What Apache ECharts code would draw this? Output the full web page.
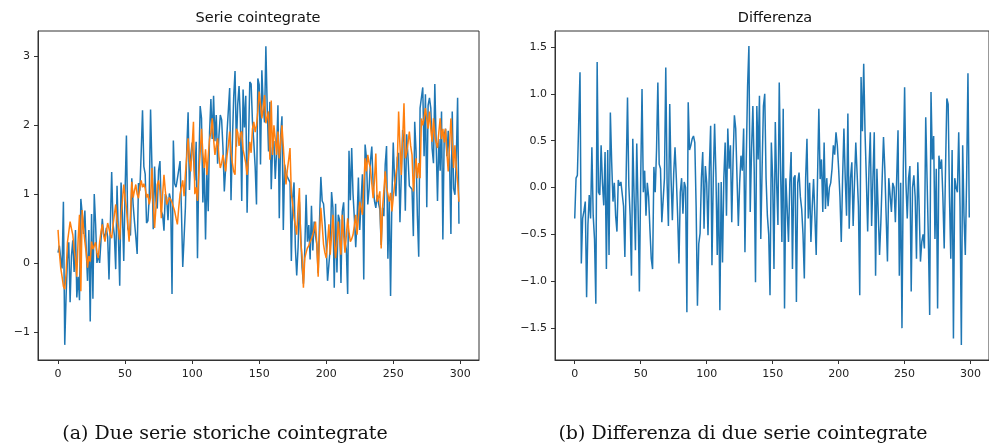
<!DOCTYPE html>
<html><head><meta charset="utf-8">
<script src="https://cdn.jsdelivr.net/npm/echarts@6/dist/echarts.min.js"></script>
<style>html,body{margin:0;padding:0;background:#fff}#c{width:989px;height:446px}</style>
</head><body><div id="c"></div>
<script>
// Serie 1 (blu)
const serieA = [
0.15,0.25,0.06,-0.08,0.89,-1.19,-0.48,0.05,0.30,-0.57,
0.10,0.33,-0.13,0.48,-0.50,-0.20,-0.54,0.93,0.72,0.42,
0.76,0.20,-0.26,0.48,-0.85,0.71,-0.52,1.00,0.57,0.00,
0.12,0.00,-0.02,0.64,0.42,0.37,0.51,0.38,-0.24,0.55,
1.32,0.57,0.40,-0.09,1.12,0.40,-0.33,1.17,0.70,0.03,
1.05,1.85,0.50,0.49,0.40,1.23,0.85,0.60,0.38,0.13,
1.16,1.05,1.60,2.22,1.40,1.29,0.58,0.61,0.95,2.23,
1.43,0.49,1.40,0.90,0.79,1.35,1.48,0.75,0.70,0.47,
1.00,0.95,0.62,1.01,0.92,-0.45,1.78,1.15,1.10,1.08,
1.35,1.48,0.78,-0.06,0.37,0.81,1.65,2.19,1.06,1.56,
1.75,1.54,1.20,1.76,0.07,1.40,2.28,2.10,0.88,1.43,
0.34,1.34,0.75,1.90,2.38,1.80,2.43,1.77,2.15,1.44,
1.85,2.15,2.08,1.67,1.04,1.38,1.89,1.89,2.54,0.91,
1.75,2.41,2.79,1.69,2.30,2.57,2.08,0.90,2.52,1.97,
2.43,0.73,1.70,2.63,2.60,2.05,1.75,1.40,0.85,2.68,
2.59,1.43,2.80,2.30,2.04,3.15,2.25,1.62,2.34,1.07,
1.67,1.77,1.22,1.62,2.29,0.65,1.85,2.13,0.48,1.43,
1.30,1.25,1.27,1.17,0.03,0.95,1.17,0.22,-0.18,0.22,
0.89,0.40,-0.07,-0.30,0.17,0.99,0.31,0.55,0.05,0.83,
0.18,0.60,0.40,0.27,-0.15,0.60,1.25,0.90,0.86,0.60,
0.27,-0.26,-0.02,0.22,1.03,0.80,-0.36,0.86,-0.14,0.70,
0.62,-0.29,0.75,0.88,0.30,0.20,-0.45,1.63,0.91,1.67,
1.00,0.65,0.23,0.61,1.24,0.48,0.90,1.29,-0.24,1.72,
1.53,0.85,1.08,1.48,1.69,1.14,0.90,0.80,0.99,0.87,
0.78,0.26,0.80,0.68,1.43,1.70,0.06,0.94,-0.48,0.95,
1.75,1.19,0.97,1.53,1.60,0.59,1.28,1.93,1.75,0.76,
1.87,1.54,1.12,1.12,1.07,0.39,2.05,1.62,0.68,0.09,
2.25,2.40,2.55,1.55,2.45,0.81,2.29,2.40,2.25,1.66,
1.45,2.60,2.61,0.90,1.80,1.34,2.20,0.34,1.85,1.95,
1.55,1.92,1.50,0.42,2.20,1.08,0.99,1.50,2.40,0.57
];
// Serie 2 (arancione)
const serieB = [
0.48,0.15,-0.07,-0.20,-0.34,-0.38,-0.15,0.30,0.45,0.60,
0.50,0.41,0.20,0.05,-0.20,0.35,0.70,-0.41,0.77,0.50,
0.31,0.15,-0.07,0.10,0.02,0.31,0.20,0.20,0.30,0.15,
0.07,0.30,0.45,0.56,0.40,0.31,0.45,0.58,0.50,0.40,
0.36,0.55,0.70,0.85,0.60,0.50,0.34,0.70,0.90,1.14,
0.95,0.80,0.55,0.31,0.70,1.18,0.95,1.05,1.14,1.00,
0.94,1.10,1.20,1.10,1.15,1.09,0.95,1.00,0.85,0.95,
1.38,0.90,0.51,0.80,1.14,1.20,1.05,0.65,1.00,1.28,
1.05,0.85,0.90,0.95,0.92,0.88,0.87,0.75,0.65,0.56,
0.80,1.00,0.98,1.20,0.97,1.30,1.55,1.81,1.50,1.33,
1.70,2.05,1.00,1.10,0.90,1.30,1.60,1.95,1.60,1.38,
1.65,1.28,1.55,1.80,1.90,2.10,1.80,1.57,1.70,1.81,
1.55,1.38,1.45,1.57,1.45,1.33,1.55,1.71,1.91,1.60,
1.45,1.33,1.28,1.95,1.90,1.70,1.88,1.91,1.65,1.67,
1.45,1.28,1.50,1.76,1.60,1.95,2.05,1.90,2.00,2.20,
2.49,2.30,2.10,2.25,2.44,2.03,2.05,2.20,1.50,2.36,
1.57,2.00,1.80,1.57,1.91,1.52,1.75,2.00,1.70,1.38,
1.14,1.35,1.50,1.67,1.00,0.85,0.65,0.55,0.41,0.80,
1.09,0.31,0.10,-0.36,0.07,0.15,0.22,0.25,0.31,0.35,
0.41,0.50,0.60,0.27,-0.20,0.40,0.80,0.55,0.27,0.15,
0.07,0.30,0.56,0.12,0.40,0.70,0.35,0.07,0.30,0.60,
0.35,0.12,0.70,0.40,0.15,0.40,0.65,0.45,0.31,0.35,
0.41,0.55,0.70,0.41,0.65,0.89,0.80,0.70,0.70,1.52,
1.33,1.57,1.45,1.38,1.15,0.94,1.20,1.59,0.89,0.95,
1.04,0.21,0.80,1.05,1.33,1.09,1.00,0.89,1.02,0.75,
0.95,1.14,1.30,1.43,2.20,1.70,1.28,1.80,2.32,1.52,
1.60,1.74,1.91,1.70,1.57,1.04,1.30,1.52,1.23,1.45,
1.23,2.10,2.00,2.10,2.25,2.10,1.95,2.20,1.95,1.76,
2.10,1.85,1.75,1.67,1.90,2.10,1.80,1.95,1.75,1.95,
1.60,1.33,1.70,2.10,1.75,1.38,1.71,1.40,1.18,0.89
];
// Differenza
const differenza = [
-0.33,0.10,0.13,0.12,1.23,-0.81,-0.33,-0.25,-0.15,-1.17,
-0.40,-0.08,-0.33,0.43,-0.30,-0.55,-1.24,1.34,-0.05,-0.08,
0.45,0.05,-0.19,0.38,-0.87,0.40,-0.72,0.80,0.27,-0.15,
0.05,-0.30,-0.47,0.08,0.02,0.06,0.06,-0.20,-0.74,0.15,
0.96,0.02,-0.30,-0.94,0.52,-0.10,-0.67,0.47,-0.20,-1.11,
0.10,1.05,-0.05,0.18,-0.30,0.05,-0.10,-0.45,-0.76,-0.87,
0.22,-0.05,0.40,1.12,0.25,0.20,-0.37,-0.39,0.10,1.28,
0.05,-0.41,0.89,0.10,-0.35,0.15,0.43,0.10,-0.30,-0.81,
-0.05,0.10,-0.28,0.06,0.00,-1.33,0.91,0.40,0.45,0.52,
0.55,0.48,-0.20,-1.26,-0.60,-0.49,0.10,0.38,-0.44,0.23,
0.05,-0.51,0.20,0.66,-0.83,0.10,0.68,0.15,-0.72,0.05,
-1.31,0.06,-0.80,0.10,0.48,-0.30,0.63,0.20,0.45,-0.37,
0.30,0.77,0.63,0.10,-0.41,0.05,0.34,0.18,0.63,-0.69,
0.30,1.08,1.51,-0.26,0.40,0.87,0.20,-1.01,0.87,0.30,
0.98,-0.55,0.20,0.87,1.00,0.10,-0.30,-0.50,-1.15,0.48,
0.10,-0.87,0.70,0.05,-0.40,1.12,0.20,-0.58,0.84,-1.29,
0.10,-0.23,-0.58,0.05,0.38,-0.87,0.10,0.13,-1.22,0.05,
0.16,-0.10,-0.23,-0.50,-0.97,0.10,0.52,-0.33,0.05,-0.58,
-0.20,0.09,-0.30,-0.72,0.10,0.84,0.09,0.30,-0.26,0.48,
-0.23,0.10,-0.20,0.00,0.05,0.20,0.45,0.35,0.59,0.45,
0.20,-0.10,-0.58,0.10,0.63,0.10,-0.30,0.79,-0.44,0.10,
0.27,-0.41,0.05,0.48,0.15,-0.20,-1.15,1.18,0.60,1.32,
0.59,0.10,-0.47,0.20,0.59,-0.41,0.10,0.59,-0.94,0.20,
0.20,-0.72,-0.37,0.10,0.54,0.20,-0.30,-0.79,0.10,-0.08,
-0.26,0.05,0.00,-0.37,0.10,0.61,-0.94,0.05,-1.50,0.20,
1.07,0.05,-0.33,0.10,0.23,-1.11,0.00,0.13,-0.10,-0.76,
0.27,-0.20,-0.79,-0.58,-0.50,-0.65,0.75,0.10,-0.55,-1.36,
1.02,0.30,0.55,-0.55,0.20,-1.29,0.34,0.20,0.30,-0.10,
-0.65,0.20,0.95,0.89,-0.10,-0.76,0.40,-1.61,0.10,0.00,
-0.05,0.59,-0.20,-1.68,0.45,-0.30,-0.72,0.10,1.22,-0.32
];
const xTicks = [0, 50, 100, 150, 200, 250, 300];
const yTicksLeft = [-1, 0, 1, 2, 3];
const yTicksRight = [-1.5, -1.0, -0.5, 0.0, 0.5, 1.0, 1.5];
const plotTitles = ['Serie cointegrate', 'Differenza'];
const captions = ['(a) Due serie storiche cointegrate', '(b) Differenza di due serie cointegrate'];

const chart = echarts.init(document.getElementById('c'), null, {renderer: 'canvas'});
const AX = '#333';
const sans = 'DejaVu Sans';
const minus = s => s.replace('-', '\u2212');
function xAxis(gi) {
  return {
    type: 'value', gridIndex: gi, min: -14.95, max: 313.95,
    axisLine: {show: true, onZero: false, lineStyle: {color: AX, width: 1}},
    axisTick: {show: true, customValues: xTicks, length: 4, lineStyle: {color: AX}},
    axisLabel: {customValues: xTicks, color: '#222', fontFamily: sans, fontSize: 11, margin: 9},
    splitLine: {show: false}
  };
}
function yAxis(gi, min, max, ticks, fmt) {
  return {
    type: 'value', gridIndex: gi, min: min, max: max,
    axisLine: {show: true, onZero: false, lineStyle: {color: AX, width: 1}},
    axisTick: {show: true, customValues: ticks, length: 4, lineStyle: {color: AX}},
    axisLabel: {customValues: ticks, color: '#222', fontFamily: sans, fontSize: 11, margin: 8, formatter: fmt},
    splitLine: {show: false}
  };
}
const idx = arr => arr.map((v, i) => [i, v]);
chart.setOption({
  animation: false,
  backgroundColor: '#fff',
  grid: [
    {left: 38, top: 31, width: 441, height: 329, show: true, borderColor: AX, borderWidth: 1, containLabel: false},
    {left: 555, top: 31, width: 441, height: 329, show: true, borderColor: AX, borderWidth: 1, containLabel: false}
  ],
  xAxis: [xAxis(0), xAxis(1)],
  yAxis: [
    yAxis(0, -1.41, 3.37, yTicksLeft, v => minus(String(v))),
    yAxis(1, -1.84, 1.67, yTicksRight, v => minus(v.toFixed(1)))
  ],
  series: [
    {type: 'line', xAxisIndex: 0, yAxisIndex: 0, data: idx(serieA), showSymbol: false, symbol: 'none', lineStyle: {color: '#1f77b4', width: 1.5}, itemStyle: {color: '#1f77b4'}},
    {type: 'line', xAxisIndex: 0, yAxisIndex: 0, data: idx(serieB), showSymbol: false, symbol: 'none', lineStyle: {color: '#ff7f0e', width: 1.5}, itemStyle: {color: '#ff7f0e'}},
    {type: 'line', xAxisIndex: 1, yAxisIndex: 1, data: idx(differenza), showSymbol: false, symbol: 'none', lineStyle: {color: '#1f77b4', width: 1.5}, itemStyle: {color: '#1f77b4'}}
  ],
  graphic: [
    {type: 'text', x: 258, y: 18, style: {text: plotTitles[0], fontFamily: sans, fontSize: 14.5, fill: '#111', align: 'center', verticalAlign: 'middle'}},
    {type: 'text', x: 775, y: 18, style: {text: plotTitles[1], fontFamily: sans, fontSize: 14.5, fill: '#111', align: 'center', verticalAlign: 'middle'}},
    {type: 'text', x: 225, y: 434, style: {text: captions[0], fontFamily: 'DejaVu Serif', fontSize: 19, fill: '#111', align: 'center', verticalAlign: 'middle'}},
    {type: 'text', x: 743, y: 434, style: {text: captions[1], fontFamily: 'DejaVu Serif', fontSize: 19, fill: '#111', align: 'center', verticalAlign: 'middle'}}
  ]
});
</script></body></html>
